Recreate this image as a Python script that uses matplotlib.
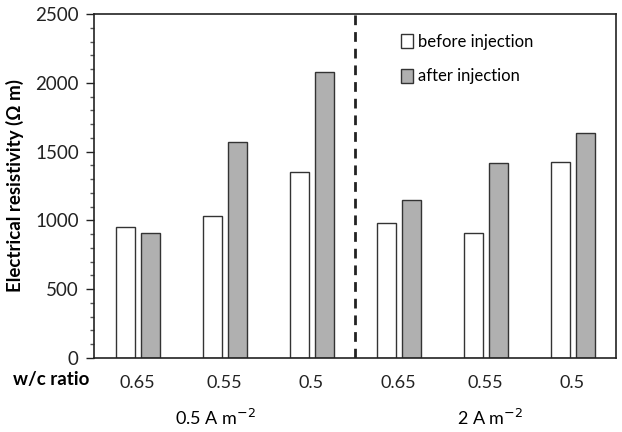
import numpy as np
import matplotlib
matplotlib.use("Agg")
import matplotlib.pyplot as plt
from matplotlib.ticker import MultipleLocator

plt.rcParams['font.family'] = ['Lato', 'DejaVu Sans']

ratios = ['0.65', '0.55', '0.5', '0.65', '0.55', '0.5']
before = [952, 1030, 1350, 980, 907, 1424]
after = [907, 1568, 2075, 1148, 1415, 1633]
groups = ['0.5 A m$^{-2}$', '2 A m$^{-2}$']

fig = plt.figure(figsize=(6.22, 4.32), dpi=100)
ax = fig.add_axes([94 / 622, 1 - 358 / 432, 522 / 622, 344 / 432])

x = np.arange(len(ratios))
w = 0.22
ax.bar(x - 0.135, before, w, color='white', edgecolor='#333333', linewidth=1.0,
       label='before injection', zorder=2)
ax.bar(x + 0.145, after, w, color='#b0b0b0', edgecolor='#333333', linewidth=1.0,
       label='after injection', zorder=2)

ax.axvline(2.5, color='#222222', linestyle=(0, (3.5, 2.5)), linewidth=2)

ax.set_xlim(-0.5, 5.5)
ax.set_ylim(0, 2500)
ax.yaxis.set_major_locator(MultipleLocator(500))
ax.yaxis.set_minor_locator(MultipleLocator(100))
ax.tick_params(axis='y', which='major', length=6, width=1, direction='out',
               labelsize=13.5, colors='#222222', pad=5)
ax.tick_params(axis='y', which='minor', length=3, width=1, direction='out', colors='#555555')
ax.tick_params(axis='x', length=0, labelsize=13, pad=12, colors='#222222')
ax.set_xticks(x)
ax.set_xticklabels(ratios)
for s in ax.spines.values():
    s.set_linewidth(1.2)
    s.set_color('#222222')

ax.set_ylabel('Electrical resistivity (Ω m)', fontsize=13.5, fontweight='bold', labelpad=8)
ax.text(-0.55, -95, 'w/c ratio', fontsize=13.5, fontweight='bold', ha='right', va='top')
ax.text(0.9, -436, groups[0], fontsize=13, ha='center', va='center')
ax.text(4.05, -436, groups[1], fontsize=13, ha='center', va='center')

ax.legend(loc='upper left', bbox_to_anchor=(0.56, 0.985), frameon=False, fontsize=12,
          handlelength=0.7, handleheight=0.9, handletextpad=0.3, labelspacing=1.1)

fig.savefig('out.png', dpi=100)
